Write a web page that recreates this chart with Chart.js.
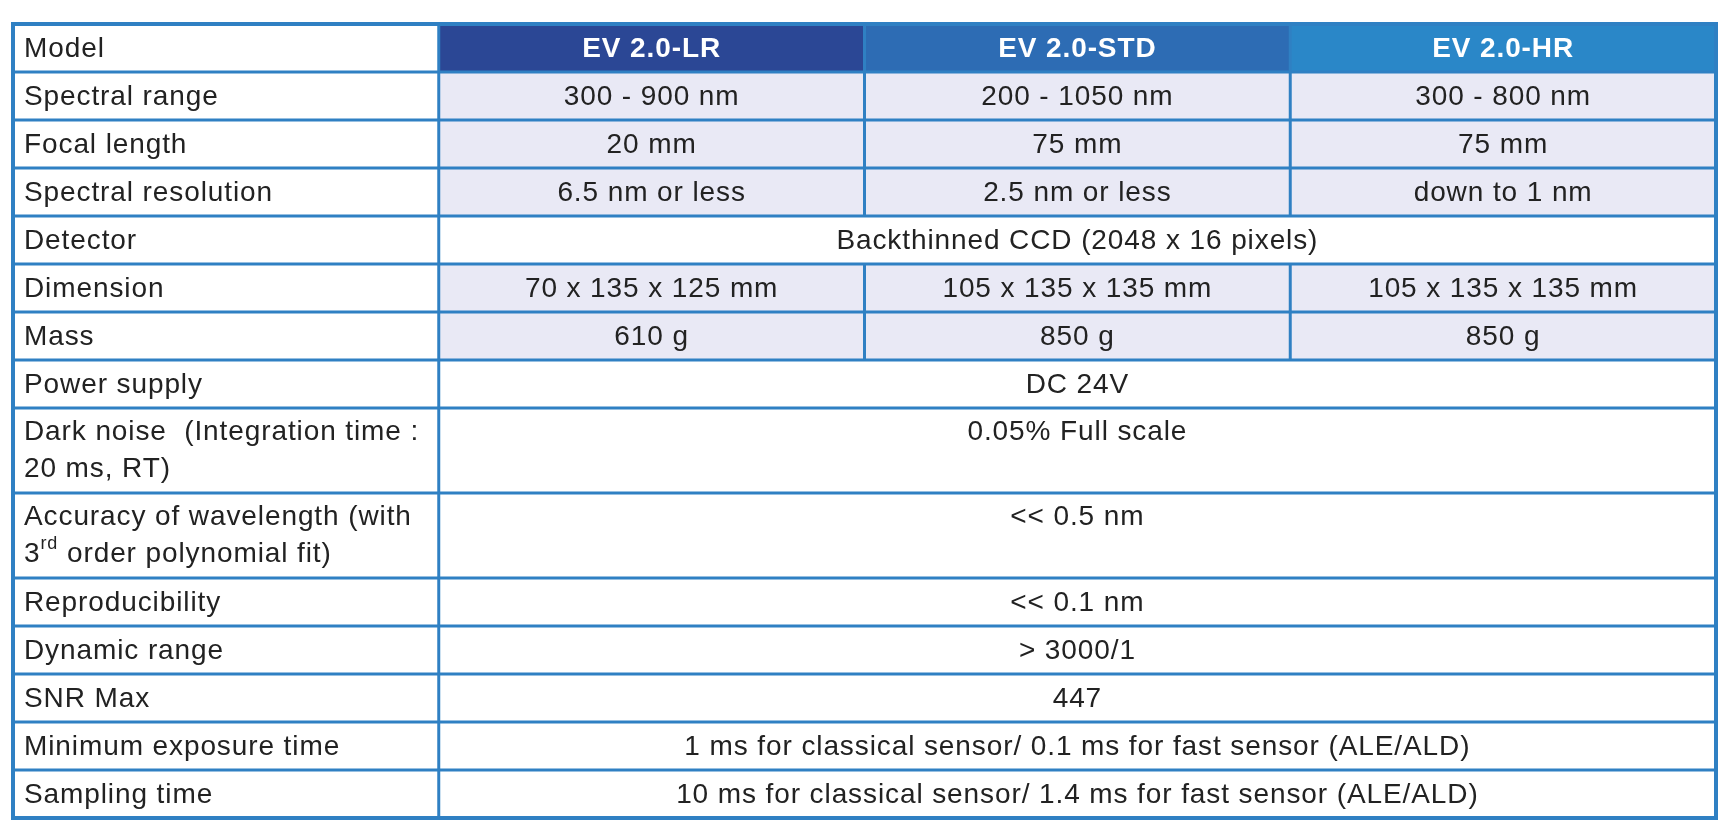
<!DOCTYPE html>
<html><head><meta charset="utf-8">
<script src="https://cdn.jsdelivr.net/npm/chart.js@4"></script>
<style>html,body{margin:0;padding:0;background:#fff}#c{display:block}</style>
</head><body><canvas id="c" width="1730" height="829"></canvas>
<script>
const headers = ['Model', 'EV 2.0-LR', 'EV 2.0-STD', 'EV 2.0-HR'];
const rowLabels = [
  ['Spectral range'], ['Focal length'], ['Spectral resolution'], ['Detector'],
  ['Dimension'], ['Mass'], ['Power supply'],
  ['Dark noise  (Integration time :', '20 ms, RT)'],
  ['Accuracy of wavelength (with', '3^rd order polynomial fit)'],
  ['Reproducibility'], ['Dynamic range'], ['SNR Max'],
  ['Minimum exposure time'], ['Sampling time']
];
const lrValues  = ['300 - 900 nm', '20 mm', '6.5 nm or less', null, '70 x 135 x 125 mm', '610 g', null, null, null, null, null, null, null, null];
const stdValues = ['200 - 1050 nm', '75 mm', '2.5 nm or less', null, '105 x 135 x 135 mm', '850 g', null, null, null, null, null, null, null, null];
const hrValues  = ['300 - 800 nm', '75 mm', 'down to 1 nm', null, '105 x 135 x 135 mm', '850 g', null, null, null, null, null, null, null, null];
const spanValues = [null, null, null, 'Backthinned CCD (2048 x 16 pixels)', null, null, 'DC 24V',
  '0.05% Full scale', '<< 0.5 nm', '<< 0.1 nm', '> 3000/1', '447',
  '1 ms for classical sensor/ 0.1 ms for fast sensor (ALE/ALD)',
  '10 ms for classical sensor/ 1.4 ms for fast sensor (ALE/ALD)'];

const headerColors = ['#ffffff', '#2b4795', '#2d6cb4', '#2a87c8'];
const BORDER = '#2f80c3', SHADE = '#e9e9f5', FONT = '"Liberation Sans", Arial, sans-serif', FS = 28;

const rowH = [1].concat(rowLabels.map(l => 1 + 0.77 * (l.length - 1)));
const rowTop = []; let acc = 0; rowH.forEach(h => { rowTop.push(acc); acc += h; });
const totalH = acc;

function drawText(ctx, s, x, y, align) {
  const parts = s.split('^');
  if (parts.length === 1) { ctx.textAlign = align; ctx.fillText(s, x, y); return; }
  ctx.textAlign = 'left';
  const sup = parts[1].match(/^(\S+)(.*)$/);
  ctx.fillText(parts[0], x, y);
  let w = ctx.measureText(parts[0]).width;
  const f = ctx.font; ctx.font = '18px ' + FONT;
  ctx.fillText(sup[1], x + w, y - 10);
  w += ctx.measureText(sup[1]).width;
  ctx.font = f; ctx.fillText(sup[2], x + w, y);
}

const tablePlugin = {
  id: 'table',
  afterDraw(chart) {
    const ctx = chart.ctx, xs = chart.scales.x, ys = chart.scales.y;
    const X = v => xs.getPixelForValue(v), Y = v => ys.getPixelForValue(v);
    ctx.save();
    ctx.textBaseline = 'middle';
    ctx.letterSpacing = '0.9px';
    for (let c = 0; c < 4; c++) {
      ctx.fillStyle = headerColors[c];
      ctx.fillRect(X(c), Y(0), X(c + 1) - X(c), Y(1) - Y(0));
      ctx.fillStyle = c ? '#fff' : '#222';
      ctx.font = (c ? 'bold ' : '') + FS + 'px ' + FONT;
      drawText(ctx, headers[c], c ? (X(c) + X(c + 1)) / 2 : X(0) + 11, (Y(0) + Y(1)) / 2 + 1, c ? 'center' : 'left');
    }
    const cols = [lrValues, stdValues, hrValues];
    rowLabels.forEach((lines, i) => {
      const r = i + 1, t = rowTop[r], h = rowH[r];
      const y1 = h > 1 ? Y(t) + 24 : (Y(t) + Y(t + h)) / 2 + 1;
      ctx.font = FS + 'px ' + FONT; ctx.fillStyle = '#222';
      lines.forEach((ln, k) => drawText(ctx, ln, X(0) + 11, y1 + k * 37, 'left'));
      if (spanValues[i] == null) {
        cols.forEach((arr, c) => {
          ctx.fillStyle = SHADE;
          ctx.fillRect(X(c + 1), Y(t), X(c + 2) - X(c + 1), Y(t + h) - Y(t));
          ctx.fillStyle = '#222';
          drawText(ctx, arr[i], (X(c + 1) + X(c + 2)) / 2, y1, 'center');
        });
      } else {
        ctx.fillStyle = '#222';
        drawText(ctx, spanValues[i], (X(1) + X(4)) / 2, y1, 'center');
      }
    });
    ctx.strokeStyle = BORDER; ctx.lineWidth = 3;
    rowTop.concat([totalH]).forEach(v => { ctx.beginPath(); ctx.moveTo(X(0), Y(v)); ctx.lineTo(X(4), Y(v)); ctx.stroke(); });
    for (let c = 0; c <= 4; c++) {
      rowTop.forEach((t, r) => {
        if (c > 1 && c < 4 && r > 0 && spanValues[r - 1] != null) return;
        ctx.beginPath(); ctx.moveTo(X(c), Y(t)); ctx.lineTo(X(c), Y(t + rowH[r])); ctx.stroke();
      });
    }
    ctx.lineWidth = 4;
    ctx.strokeRect(X(0), Y(0), X(4) - X(0), Y(totalH) - Y(0));
    ctx.restore();
  }
};

new Chart(document.getElementById('c'), {
  type: 'scatter',
  data: { datasets: [{ data: [] }] },
  options: {
    responsive: false, animation: false, events: [],
    layout: { padding: { left: 13, right: 14, top: 24, bottom: 11 } },
    plugins: { legend: { display: false }, tooltip: { enabled: false } },
    scales: {
      x: { type: 'linear', min: 0, max: 4, display: false },
      y: { type: 'linear', min: 0, max: totalH, reverse: true, display: false }
    }
  },
  plugins: [tablePlugin]
});
</script></body></html>
